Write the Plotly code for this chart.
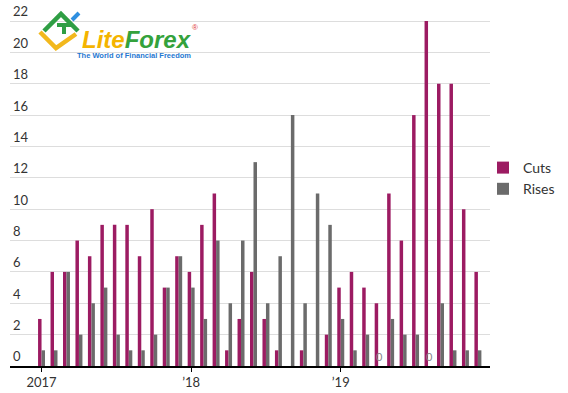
import plotly.graph_objects as go

# ---- data ----
years = ["2017", "2018", "2019"]
month_names = ["Jan", "Feb", "Mar", "Apr", "May", "Jun", "Jul", "Aug", "Sep", "Oct", "Nov", "Dec"]
months = [f"{m} {y}" for y in years for m in month_names]

cuts = [3, 6, 6, 8, 7, 9, 9, 9, 7, 10, 5, 7,
        6, 9, 11, 1, 3, 6, 3, 1, 0, 1, 0, 2,
        5, 6, 5, 4, 11, 8, 16, 22, 18, 18, 10, 6]
rises = [1, 1, 6, 2, 4, 5, 2, 1, 1, 2, 5, 7,
         5, 3, 8, 4, 8, 13, 4, 7, 16, 4, 11, 9,
         3, 1, 2, 0, 3, 2, 2, 0, 4, 1, 1, 1]

tick_vals_idx = [0, 12, 24]
tick_text = ["2017", "\u201918", "\u201919"]
y_ticks = [0, 2, 4, 6, 8, 10, 12, 14, 16, 18, 20, 22]

# ---- layout geometry ----
W, H = 568, 393
ML, MR, MT, MB = 10, 78, 0, 27
PW, PH = W - ML - MR, H - MT - MB

x_idx = list(range(len(months)))

CUT_COLOR = "#9c1b62"
RISE_COLOR = "#6b6b6b"
FONT = "Lato"
BARGAP = 0.44

fig = go.Figure()
fig.add_trace(go.Bar(
    x=x_idx, y=cuts, name="Cuts", marker_color=CUT_COLOR,
    marker_line_width=0, hovertext=months,
))
fig.add_trace(go.Bar(
    x=x_idx, y=rises, name="Rises", marker_color=RISE_COLOR,
    marker_line_width=0, hovertext=months,
))


def px(xp, yp):
    """pixel -> paper coords"""
    return (xp - ML) / PW, (H - MB - yp) / PH


def line_shape(pts, color, width):
    path = ""
    for i, (a, b) in enumerate(pts):
        X, Y = px(a, b)
        path += ("M" if i == 0 else "L") + f"{X:.4f},{Y:.4f}"
    return dict(type="path", xref="paper", yref="paper", path=path,
                line=dict(color=color, width=width), layer="above")


shapes = [
    line_shape([(40, 32), (56, 48), (76, 34)], "#f2b81d", 4.5),
    line_shape([(44, 31), (61, 14), (78, 31)], "#2f9e44", 4.5),
    line_shape([(57, 25), (72, 25)], "#2f9e44", 4),
    line_shape([(64, 24), (64, 34)], "#2f9e44", 4),
    line_shape([(72, 20), (79, 13)], "#2f8fe0", 4),
]

annotations = []
ax, ay = px(80, 39)
annotations.append(dict(
    xref="paper", yref="paper", x=ax, y=ay, xanchor="left", yanchor="middle",
    showarrow=False, height=22, valign="middle",
    text="<b><i><span style='color:#f4b400'>Lite</span><span style='color:#34a23c'>Forex</span></i></b>",
    font=dict(family="Liberation Sans", size=24),
))
rx, ry = px(190, 28)
annotations.append(dict(
    xref="paper", yref="paper", x=rx, y=ry, xanchor="left", yanchor="middle",
    showarrow=False, text="\u00ae", font=dict(family="Liberation Sans", size=8, color="#e03a3a"),
))
tx, ty = px(75, 56)
annotations.append(dict(
    xref="paper", yref="paper", x=tx, y=ty, xanchor="left", yanchor="middle",
    showarrow=False, text="<b>The World of Financial Freedom</b>",
    font=dict(family="Liberation Sans", size=7.5, color="#1f78d1"),
))

# "0" labels for zero-valued rises (rise bar sits right of the group centre)
rise_offset = (1 - BARGAP) / 4
for i, v in enumerate(rises):
    if v == 0:
        annotations.append(dict(
            x=x_idx[i] + rise_offset, y=v, xref="x", yref="y", yanchor="bottom",
            showarrow=False, text="0", yshift=1,
            font=dict(size=11, color="#888", family=FONT),
        ))

unit = 345 / 22.0
fig.update_layout(
    width=W, height=H,
    margin=dict(l=ML, r=MR, t=MT, b=MB, pad=0),
    paper_bgcolor="white", plot_bgcolor="white",
    barmode="group", bargap=BARGAP, bargroupgap=0,
    font=dict(family=FONT, color="#333", size=13),
    showlegend=True,
    legend=dict(x=(483 - ML) / PW, y=px(0, 152)[1], xanchor="left", yanchor="top",
                font=dict(size=14, color="#333", family=FONT),
                tracegroupgap=0, itemwidth=30, bgcolor="rgba(0,0,0,0)"),
    xaxis=dict(
        range=[-2.53, 35.97], tickmode="array", tickvals=tick_vals_idx, ticktext=tick_text,
        showgrid=False, zeroline=False, showline=True, linecolor="#000", linewidth=1.5,
        ticks="outside", ticklen=4, tickcolor="#000", tickwidth=1, automargin=False,
        tickfont=dict(size=13, color="#333", family=FONT), fixedrange=True,
    ),
    yaxis=dict(
        range=[0, PH / unit], tickmode="array", tickvals=y_ticks,
        showgrid=True, gridcolor="#dddddd", gridwidth=1, zeroline=False, automargin=False,
        showline=False, ticks="", ticklabelposition="inside top",
        tickfont=dict(size=13, color="#333", family=FONT), fixedrange=True,
    ),
    shapes=shapes, annotations=annotations,
)

fig.write_html("out.html", config={"displayModeBar": False},
               post_script="document.body.style.margin='0';")
